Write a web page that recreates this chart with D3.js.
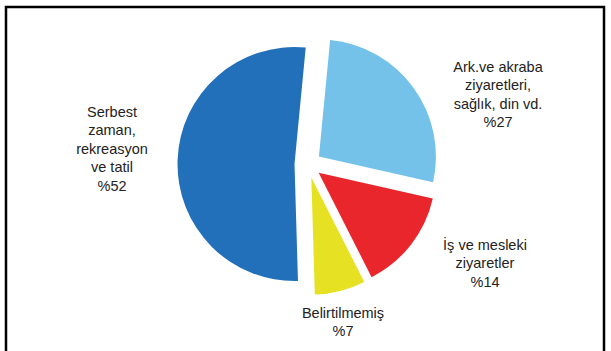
<!DOCTYPE html>
<html>
<head>
<meta charset="utf-8">
<script src="https://cdn.jsdelivr.net/npm/d3@7"></script>
<style>
  html, body { margin: 0; padding: 0; background: #fff; }
  svg { display: block; }
  text { font-family: "Liberation Sans", Arial, sans-serif; fill: #222; }
</style>
</head>
<body>
<svg id="chart" width="611" height="351"></svg>
<script>
const categories = ['Ark.ve akraba ziyaretleri, sağlık, din vd.', 'İş ve mesleki ziyaretler', 'Belirtilmemiş', 'Serbest zaman, rekreasyon ve tatil'];
const values = [27, 14, 7, 52];
const labelLines = [
  ['Ark.ve akraba', 'ziyaretleri,', 'sağlık, din vd.', '%27'],
  ['İş ve mesleki', 'ziyaretler', '%14'],
  ['Belirtilmemiş', '%7'],
  ['Serbest', 'zaman,', 'rekreasyon', 've tatil', '%52']
];
const colors = ['#74c1ea', '#e8262c', '#e6e223', '#2170b9'];

// label anchor points (x centre, first line baseline) and line step
const labelPos = [[498, 72], [485, 250], [343, 318], [112, 117]];
const lineStep = 18.4;

const svg = d3.select('#chart');
const width = 611;
const height = 351;

// frame
svg.append('rect')
  .attr('x', 0).attr('y', 0)
  .attr('width', width).attr('height', height)
  .attr('fill', '#fff');
svg.append('path')
  .attr('d', 'M6,351V7H604V351')
  .attr('fill', 'none')
  .attr('stroke', '#000')
  .attr('stroke-width', 2.5);

const cx = 308;
const cy = 164.5;
const radius = 117;
const explode = 13.5;
const startDeg = 5.5;

const color = d3.scaleOrdinal().domain(categories).range(colors);

const pie = d3.pie()
  .sort(null)
  .value(d => d)
  .startAngle(startDeg * Math.PI / 180)
  .endAngle((startDeg + 360) * Math.PI / 180);

const arc = d3.arc().innerRadius(0).outerRadius(radius);

const arcs = pie(values);

svg.append('g')
  .attr('transform', `translate(${cx},${cy})`)
  .selectAll('path')
  .data(arcs)
  .enter()
  .append('path')
  .attr('d', arc)
  .attr('fill', (d, i) => color(categories[i]))
  .attr('transform', d => {
    const mid = (d.startAngle + d.endAngle) / 2;
    return `translate(${explode * Math.sin(mid)},${-explode * Math.cos(mid)})`;
  });

labelLines.forEach((lines, i) => {
  const t = svg.append('text')
    .attr('text-anchor', 'middle')
    .attr('font-size', 14.5);
  lines.forEach((line, j) => {
    t.append('tspan')
      .attr('x', labelPos[i][0])
      .attr('y', labelPos[i][1] + j * lineStep)
      .text(line);
  });
});
</script>
</body>
</html>
